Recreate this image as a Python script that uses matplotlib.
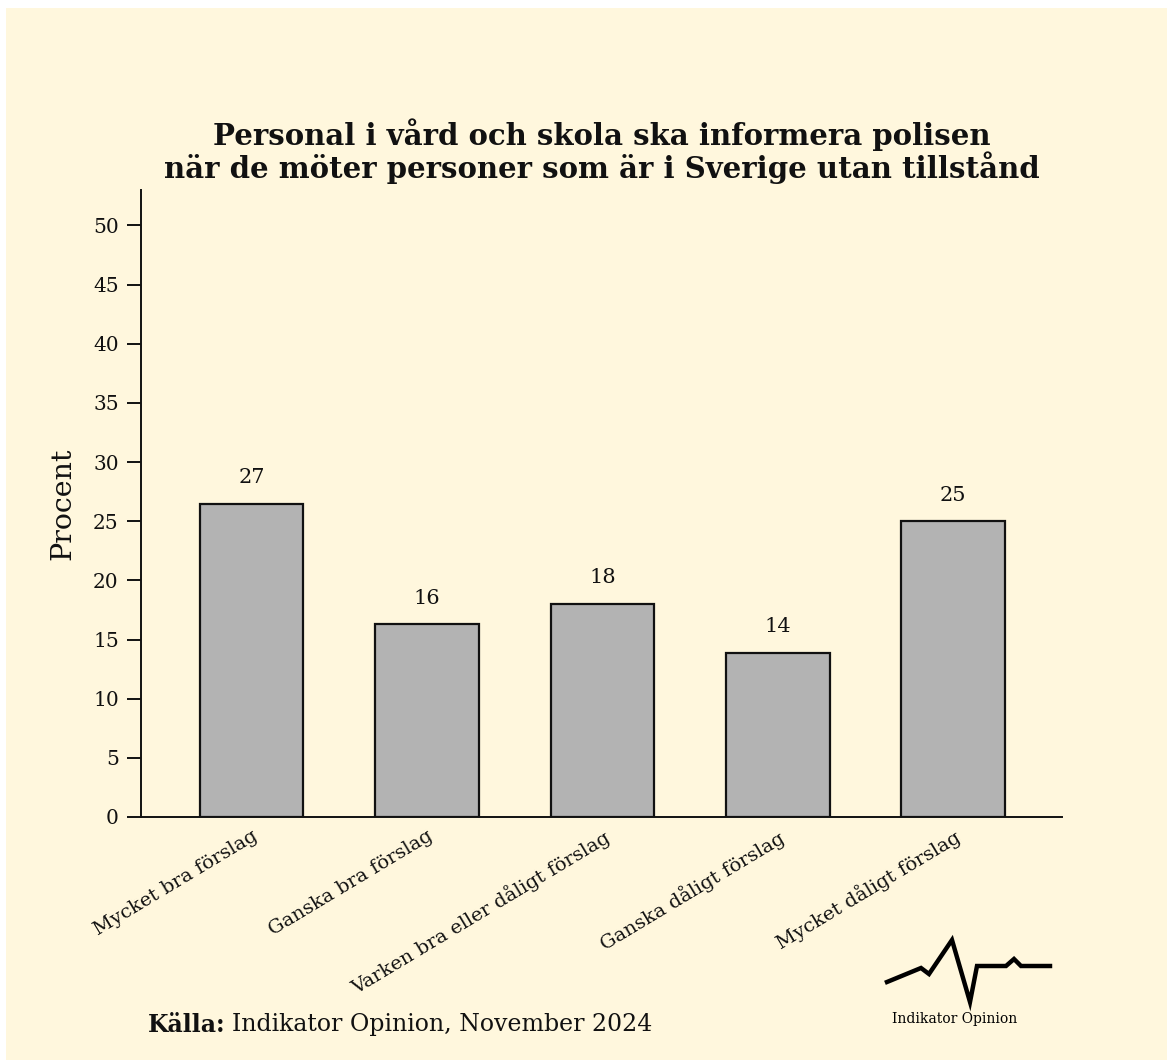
import matplotlib
matplotlib.use("Agg")
import matplotlib.pyplot as plt
from matplotlib.patches import Rectangle
from matplotlib.lines import Line2D

categories = ["Mycket bra förslag", "Ganska bra förslag", "Varken bra eller dåligt förslag",
              "Ganska dåligt förslag", "Mycket dåligt förslag"]
values = [26.5, 16.3, 18.0, 13.9, 25.0]
value_labels = ["27", "16", "18", "14", "25"]
yticks = [0, 5, 10, 15, 20, 25, 30, 35, 40, 45, 50]

title = "Personal i vård och skola ska informera polisen\nnär de möter personer som är i Sverige utan tillstånd"
BG = "#FFF7DD"
SERIF = "DejaVu Serif"

plt.rcParams["font.family"] = SERIF

W, H = 1167, 1060
fig = plt.figure(figsize=(W / 100, H / 100), dpi=100, facecolor="white")
fig.patches.append(Rectangle((6 / W, 0), 1 - 6 / W, 1 - 8 / H, transform=fig.transFigure,
                             facecolor=BG, edgecolor="none", zorder=-10))

ax = fig.add_axes([141 / W, 1 - 817 / H, (1062 - 141) / W, (817 - 190) / H])
ax.set_facecolor(BG)
x = list(range(len(categories)))
bars = ax.bar(x, values, width=0.59, color="#B3B3B3", edgecolor="#111111", linewidth=1.6, zorder=3)
for xi, v, lab in zip(x, values, value_labels):
    ax.annotate(lab, (xi, v), xytext=(0, 12), textcoords="offset points",
                ha="center", va="bottom", fontsize=15, color="#111111")

ax.set_xlim(-0.63, 4.62)
ax.set_ylim(0, 53)
ax.set_yticks(yticks)
ax.set_yticklabels([str(t) for t in yticks], fontsize=14.5)
ax.tick_params(axis="y", length=10, width=1.4, pad=6, colors="#111111")
ax.set_xticks(x)
ax.set_xticklabels(categories, rotation=31, ha="right", rotation_mode="anchor", fontsize=14)
ax.tick_params(axis="x", length=0, pad=7, colors="#111111")
for s in ["top", "right"]:
    ax.spines[s].set_visible(False)
for s in ["left", "bottom"]:
    ax.spines[s].set_linewidth(1.4)
    ax.spines[s].set_color("#111111")
ax.set_ylabel("Procent", fontsize=20.5, labelpad=12, color="#111111")

fig.text(602 / W, 1 - 151 / H, title, ha="center", va="center", fontsize=21,
         fontweight="bold", linespacing=1.0, color="#111111")

src_bold = fig.text(148 / W, 1 - 1025 / H, "Källa:", ha="left", va="center", fontsize=17,
                    fontweight="bold", color="#111111")
fig.canvas.draw()
bb = src_bold.get_window_extent(renderer=fig.canvas.get_renderer())
fig.text((bb.x1 + 6) / W, 1 - 1025 / H, "Indikator Opinion, November 2024", ha="left",
         va="center", fontsize=17, color="#111111")

# logo
lx = [887, 921, 929, 952, 970, 977, 1006, 1014, 1021, 1050]
ly = [982, 968, 974, 940, 1002, 966, 966, 959, 966, 966]
fig.lines.append(Line2D([a / W for a in lx], [1 - b / H for b in ly], transform=fig.transFigure,
                        color="black", linewidth=3.2, solid_joinstyle="miter"))
fig.text(955 / W, 1 - 1019 / H, "Indikator Opinion", ha="center", va="center", fontsize=10,
         color="black")

fig.savefig("out.png", dpi=100, facecolor="white")
